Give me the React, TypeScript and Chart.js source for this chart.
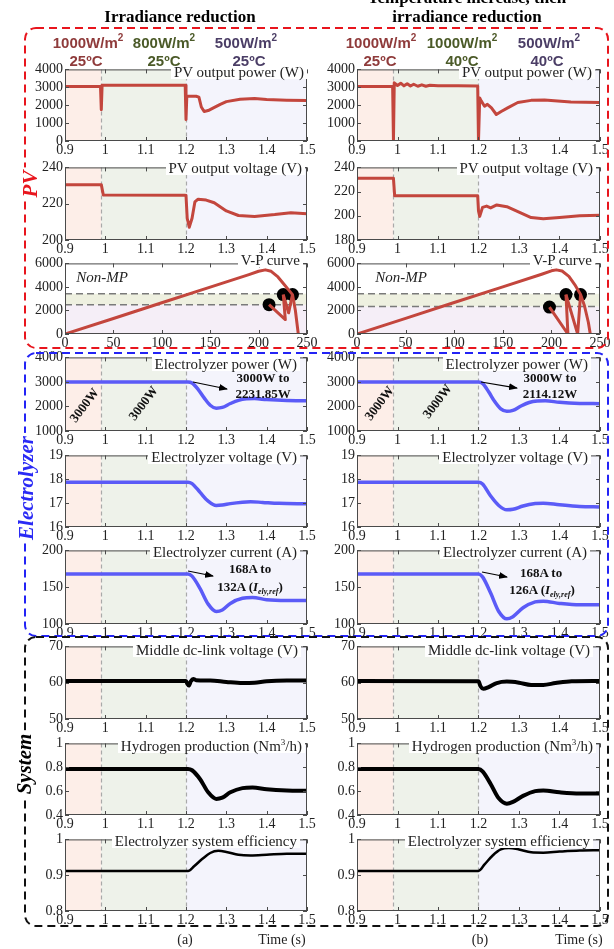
import React, { useEffect, useRef } from "react";
import { Chart, registerables } from "chart.js";
Chart.register(...registerables);

const SERIF = "'Liberation Serif', 'Times New Roman', serif";
const SANS = "'Liberation Sans', Arial, sans-serif";

// ---------- tick labels ----------
const timeTicks = [0.9, 1, 1.1, 1.2, 1.3, 1.4, 1.5];
const vpVoltTicks = [0, 50, 100, 150, 200, 250];
const pvPowerTicks = [0, 1000, 2000, 3000, 4000];
const pvVoltTicksA = [200, 220, 240];
const pvVoltTicksB = [180, 200, 220, 240];
const vpPowerTicks = [0, 2000, 4000, 6000];
const elyPowerTicks = [1000, 2000, 3000, 4000];
const elyVoltTicks = [16, 17, 18, 19];
const elyCurrTicks = [100, 150, 200];
const dcLinkTicks = [50, 60, 70];
const h2Ticks = [0.4, 0.6, 0.8, 1];
const effTicks = [0.8, 0.9, 1];

// stage change instants (s)
const stageTimes = [0.99, 1.2];

// ---------- (a) irradiance reduction ----------
const pvPowerA_t = [0.9, 0.95, 0.988, 0.99, 0.992, 1.05, 1.1, 1.15, 1.198, 1.2, 1.202, 1.225, 1.232, 1.238, 1.245, 1.255, 1.268, 1.285, 1.3, 1.334, 1.37, 1.4, 1.45, 1.5];
const pvPowerA_v = [3050, 3040, 3050, 1750, 3120, 3110, 3120, 3110, 3120, 1200, 2500, 2500, 2450, 1900, 1650, 1700, 1850, 2050, 2200, 2330, 2370, 2320, 2280, 2260];
const pvVoltA_t = [0.9, 0.99, 0.995, 1.198, 1.2, 1.203, 1.208, 1.215, 1.222, 1.23, 1.25, 1.27, 1.3, 1.33, 1.37, 1.42, 1.46, 1.5];
const pvVoltA_v = [230.5, 230.5, 224.8, 224.6, 224.5, 212, 207, 212, 221, 222.5, 222, 220.5, 216, 213.5, 213, 214, 215, 214.5];
const vpMainA_v = [0, 50, 100, 150, 190, 200, 207, 213, 220, 226, 231, 235, 238, 241];
const vpMainA_p = [0, 1320, 2660, 3980, 5050, 5330, 5450, 5330, 4850, 4250, 3750, 3350, 2000, 0];
const vpTr1A_v = [235, 231, 225.5];
const vpTr1A_p = [3350, 1800, 3350];
const vpTr2A_v = [225.5, 227.6, 210.8];
const vpTr2A_p = [3350, 1230, 2490];
const vpDotsA_v = [210.8, 225.5, 235];
const vpDotsA_p = [2490, 3350, 3350];
const vpBandA = [2490, 3420];
const elyPowerA_t = [0.9, 1.205, 1.215, 1.23, 1.245, 1.26, 1.275, 1.29, 1.31, 1.33, 1.35, 1.37, 1.4, 1.45, 1.5];
const elyPowerA_v = [3000, 3000, 2960, 2700, 2350, 2050, 1930, 1960, 2120, 2250, 2310, 2320, 2280, 2240, 2230];
const elyVoltA_t = [0.9, 1.205, 1.215, 1.235, 1.255, 1.275, 1.29, 1.31, 1.34, 1.36, 1.39, 1.43, 1.5];
const elyVoltA_v = [17.88, 17.88, 17.82, 17.45, 17.08, 16.9, 16.92, 16.98, 17.04, 17.06, 17.03, 16.99, 16.97];
const elyCurrA_t = [0.9, 1.205, 1.215, 1.235, 1.255, 1.275, 1.29, 1.31, 1.34, 1.365, 1.4, 1.45, 1.5];
const elyCurrA_v = [168, 168, 165, 148, 127, 117, 119, 128, 135, 136, 133, 132, 132];
const dcLinkA_t = [0.9, 1.2, 1.203, 1.207, 1.212, 1.218, 1.225, 1.26, 1.3, 1.34, 1.37, 1.4, 1.45, 1.5];
const dcLinkA_v = [60.5, 60.5, 59.8, 59.2, 60.4, 61.0, 60.7, 60.6, 60.2, 59.9, 60.0, 60.4, 60.6, 60.6];
const h2A_t = [0.9, 1.205, 1.215, 1.235, 1.255, 1.275, 1.29, 1.31, 1.34, 1.365, 1.4, 1.45, 1.5];
const h2A_v = [0.785, 0.785, 0.775, 0.7, 0.59, 0.535, 0.545, 0.59, 0.625, 0.63, 0.615, 0.605, 0.603];
const effA_t = [0.9, 1.205, 1.22, 1.24, 1.26, 1.28, 1.3, 1.33, 1.36, 1.4, 1.45, 1.5];
const effA_v = [0.912, 0.912, 0.925, 0.945, 0.962, 0.968, 0.965, 0.957, 0.955, 0.957, 0.96, 0.96];

// ---------- (b) temperature increase, then irradiance reduction ----------
const pvPowerB_t = [0.9, 0.988, 0.99, 0.992, 1.0, 1.008, 1.016, 1.024, 1.032, 1.04, 1.05, 1.06, 1.07, 1.08, 1.1, 1.15, 1.198, 1.2, 1.203, 1.207, 1.215, 1.222, 1.232, 1.244, 1.256, 1.272, 1.297, 1.33, 1.363, 1.428, 1.5];
const pvPowerB_v = [3050, 3050, 0, 3250, 3100, 3230, 3080, 3200, 3070, 3170, 3060, 3140, 3060, 3110, 3080, 3080, 3070, 0, 2400, 2230, 1940, 2050, 1850, 1480, 1650, 1850, 2150, 2270, 2290, 2180, 2150];
const pvVoltB_t = [0.9, 0.99, 0.993, 1.198, 1.2, 1.203, 1.21, 1.22, 1.23, 1.245, 1.27, 1.3, 1.33, 1.36, 1.4, 1.45, 1.5];
const pvVoltB_v = [231, 231, 216.5, 216.5, 204, 199.5, 207, 208, 206.5, 209, 207.5, 203, 198.5, 197.5, 198.5, 200, 200.5];
const vpMainB_v = [0, 50, 100, 150, 190, 200, 205, 211, 218, 224, 230, 234, 238, 240];
const vpMainB_p = [0, 1330, 2680, 4000, 5080, 5370, 5450, 5350, 4900, 4200, 3350, 2400, 1000, 0];
const vpTr1B_v = [230, 227, 215];
const vpTr1B_p = [3350, 0, 3350];
const vpTr2B_v = [215, 217, 198];
const vpTr2B_p = [3350, 0, 2290];
const vpDotsB_v = [198, 215, 230];
const vpDotsB_p = [2290, 3350, 3350];
const vpBandB = [2340, 3420];
const elyPowerB_t = [0.9, 1.2, 1.21, 1.225, 1.24, 1.255, 1.27, 1.285, 1.305, 1.325, 1.345, 1.365, 1.4, 1.45, 1.5];
const elyPowerB_v = [3000, 3000, 2940, 2600, 2200, 1900, 1800, 1840, 2020, 2160, 2220, 2230, 2170, 2125, 2114];
const elyVoltB_t = [0.9, 1.2, 1.21, 1.23, 1.25, 1.27, 1.285, 1.31, 1.34, 1.36, 1.4, 1.45, 1.5];
const elyVoltB_v = [17.88, 17.88, 17.8, 17.3, 16.9, 16.72, 16.74, 16.88, 16.98, 17.0, 16.93, 16.86, 16.84];
const elyCurrB_t = [0.9, 1.2, 1.21, 1.23, 1.25, 1.27, 1.285, 1.31, 1.34, 1.36, 1.4, 1.45, 1.5];
const elyCurrB_v = [168, 168, 164, 142, 117, 107, 110, 122, 130, 131, 128, 126, 126];
const dcLinkB_t = [0.9, 1.2, 1.205, 1.212, 1.225, 1.245, 1.27, 1.3, 1.33, 1.36, 1.39, 1.43, 1.5];
const dcLinkB_v = [60.5, 60.4, 59.0, 58.3, 58.8, 59.9, 60.3, 60.0, 59.4, 59.4, 59.9, 60.4, 60.5];
const h2B_t = [0.9, 1.2, 1.21, 1.23, 1.25, 1.27, 1.285, 1.31, 1.34, 1.36, 1.4, 1.45, 1.5];
const h2B_v = [0.785, 0.785, 0.765, 0.66, 0.54, 0.495, 0.51, 0.56, 0.6, 0.605, 0.59, 0.58, 0.58];
const effB_t = [0.9, 1.2, 1.215, 1.235, 1.255, 1.275, 1.3, 1.33, 1.36, 1.4, 1.45, 1.5];
const effB_v = [0.912, 0.912, 0.93, 0.955, 0.972, 0.976, 0.972, 0.964, 0.963, 0.966, 0.969, 0.97];

// ---------- styles ----------
const PV_RED = "#c3463d";
const ELY_BLUE = "#5b5bf7";
const SYS_BLACK = "#000000";
const PINK = "#fdeee8";
const GREEN = "#eef2ea";
const LAV = "#f4f4fc";
const VP_LOW = "#f5eef7";
const VP_BAND = "#eef0e0";

type Series = { x: number[]; y: number[]; color: string; width: number; smooth?: boolean; dots?: boolean };
type PanelCfg = {
  L: number; T: number; W: number; H: number;
  xTicks: number[]; yTicks: number[];
  series: Series[]; kind: "time" | "vp"; band?: number[];
};

const fmt = (v: number) => String(Math.round(v * 100) / 100);

const framePlugin = {
  id: "frame",
  beforeDatasetsDraw(chart: any, _args: any, opts: any) {
    const { ctx, chartArea: a } = chart;
    const xs = chart.scales.x, ys = chart.scales.y;
    ctx.save();
    if (opts.kind === "time") {
      const edges = [xs.min, stageTimes[0], stageTimes[1], xs.max];
      const fills = [PINK, GREEN, LAV];
      for (let i = 0; i < 3; i++) {
        const x0 = xs.getPixelForValue(edges[i]);
        const x1 = xs.getPixelForValue(edges[i + 1]);
        ctx.fillStyle = fills[i];
        ctx.fillRect(x0, a.top, x1 - x0, a.bottom - a.top);
      }
      ctx.strokeStyle = "#a9a9a9";
      ctx.lineWidth = 1.2;
      ctx.setLineDash([4, 3]);
      stageTimes.forEach((t) => {
        const px = Math.round(xs.getPixelForValue(t)) + 0.5;
        ctx.beginPath();
        ctx.moveTo(px, a.top);
        ctx.lineTo(px, a.bottom);
        ctx.stroke();
      });
    } else {
      const [lo, hi] = opts.band;
      const yl = ys.getPixelForValue(lo), yh = ys.getPixelForValue(hi);
      ctx.fillStyle = VP_LOW;
      ctx.fillRect(a.left, yl, a.right - a.left, a.bottom - yl);
      ctx.fillStyle = VP_BAND;
      ctx.fillRect(a.left, yh, a.right - a.left, yl - yh);
      ctx.strokeStyle = "#7a7a7a";
      ctx.lineWidth = 1.6;
      ctx.setLineDash([7, 4]);
      [yl, yh].forEach((py) => {
        ctx.beginPath();
        ctx.moveTo(a.left, py);
        ctx.lineTo(a.right, py);
        ctx.stroke();
      });
    }
    ctx.restore();
  },
  afterDraw(chart: any) {
    const { ctx, chartArea: a } = chart;
    const xs = chart.scales.x, ys = chart.scales.y;
    ctx.save();
    ctx.strokeStyle = "#4a4a4a";
    ctx.lineWidth = 1;
    ctx.setLineDash([]);
    ctx.strokeRect(a.left + 0.5, a.top + 0.5, a.right - a.left - 1, a.bottom - a.top - 1);
    ctx.beginPath();
    xs.ticks.forEach((t: any) => {
      const px = Math.round(xs.getPixelForValue(t.value)) + 0.5;
      ctx.moveTo(px, a.bottom); ctx.lineTo(px, a.bottom - 4);
      ctx.moveTo(px, a.top); ctx.lineTo(px, a.top + 4);
    });
    ys.ticks.forEach((t: any) => {
      const py = Math.round(ys.getPixelForValue(t.value)) + 0.5;
      ctx.moveTo(a.left, py); ctx.lineTo(a.left + 4, py);
      ctx.moveTo(a.right, py); ctx.lineTo(a.right - 4, py);
    });
    ctx.stroke();
    ctx.restore();
  },
};

const PAD_L = 50, PAD_T = 10, PAD_R = 16, PAD_B = 22;

function Panel({ cfg }: { cfg: PanelCfg }) {
  const ref = useRef<HTMLCanvasElement>(null);
  useEffect(() => {
    const tickFont = { family: SERIF, size: 14 };
    const chart = new Chart(ref.current as HTMLCanvasElement, {
      type: "line",
      data: {
        datasets: cfg.series.map((s) => ({
          data: s.x.map((x, i) => ({ x, y: s.y[i] })),
          borderColor: s.color,
          backgroundColor: s.color,
          pointBackgroundColor: s.color,
          borderWidth: s.dots ? 0 : s.width,
          showLine: !s.dots,
          pointRadius: s.dots ? s.width : 0,
          pointBorderWidth: 0,
          cubicInterpolationMode: s.smooth ? "monotone" : "default",
          tension: 0,
          borderJoinStyle: "round",
          fill: false,
          clip: s.dots ? 8 : 0,
        })),
      },
      options: {
        responsive: false,
        maintainAspectRatio: false,
        animation: false,
        events: [],
        layout: { padding: { left: 0, top: PAD_T, right: PAD_R, bottom: 0 } },
        plugins: {
          legend: { display: false },
          tooltip: { enabled: false },
          frame: { kind: cfg.kind, band: cfg.band },
        } as any,
        scales: {
          x: {
            type: "linear",
            min: cfg.xTicks[0],
            max: cfg.xTicks[cfg.xTicks.length - 1],
            afterBuildTicks: (s: any) => { s.ticks = cfg.xTicks.map((v) => ({ value: v })); },
            afterFit: (s: any) => { s.height = PAD_B; },
            grid: { display: false, drawTicks: false },
            border: { display: false },
            ticks: { font: tickFont, color: "#222", padding: 1, maxRotation: 0, autoSkip: false, callback: (v: any) => fmt(Number(v)) },
          },
          y: {
            type: "linear",
            min: cfg.yTicks[0],
            max: cfg.yTicks[cfg.yTicks.length - 1],
            afterBuildTicks: (s: any) => { s.ticks = cfg.yTicks.map((v) => ({ value: v })); },
            afterFit: (s: any) => { s.width = PAD_L; },
            grid: { display: false, drawTicks: false },
            border: { display: false },
            ticks: { font: tickFont, color: "#222", padding: 2, autoSkip: false, callback: (v: any) => fmt(Number(v)) },
          },
        },
      } as any,
      plugins: [framePlugin as any],
    });
    return () => chart.destroy();
  }, []);
  const w = cfg.W + PAD_L + PAD_R, h = cfg.H + PAD_T + PAD_B;
  return (
    <canvas
      ref={ref}
      width={w}
      height={h}
      style={{ position: "absolute", left: cfg.L - PAD_L, top: cfg.T - PAD_T, width: w, height: h }}
    />
  );
}

// column / row layout
const COLS = [{ L: 65, W: 242 }, { L: 357, W: 243 }];
const ROWS = [
  { T: 69, H: 72 }, { T: 167, H: 73 }, { T: 263, H: 71 },
  { T: 357, H: 74 }, { T: 455, H: 72 }, { T: 550, H: 74 },
  { T: 646, H: 73 }, { T: 743, H: 72 }, { T: 839, H: 72 },
];

function mk(col: number, row: number, kind: "time" | "vp", xTicks: number[], yTicks: number[], series: Series[], band?: number[]): PanelCfg {
  return { L: COLS[col].L, W: COLS[col].W, T: ROWS[row].T, H: ROWS[row].H, kind, xTicks, yTicks, series, band };
}

const panels: PanelCfg[] = [
  mk(0, 0, "time", timeTicks, pvPowerTicks, [{ x: pvPowerA_t, y: pvPowerA_v, color: PV_RED, width: 3 }]),
  mk(1, 0, "time", timeTicks, pvPowerTicks, [{ x: pvPowerB_t, y: pvPowerB_v, color: PV_RED, width: 3 }]),
  mk(0, 1, "time", timeTicks, pvVoltTicksA, [{ x: pvVoltA_t, y: pvVoltA_v, color: PV_RED, width: 3 }]),
  mk(1, 1, "time", timeTicks, pvVoltTicksB, [{ x: pvVoltB_t, y: pvVoltB_v, color: PV_RED, width: 3 }]),
  mk(0, 2, "vp", vpVoltTicks, vpPowerTicks, [
    { x: vpMainA_v, y: vpMainA_p, color: PV_RED, width: 3 },
    { x: vpTr1A_v, y: vpTr1A_p, color: PV_RED, width: 3 },
    { x: vpTr2A_v, y: vpTr2A_p, color: PV_RED, width: 3 },
    { x: vpDotsA_v, y: vpDotsA_p, color: "#000", width: 6.5, dots: true },
  ], vpBandA),
  mk(1, 2, "vp", vpVoltTicks, vpPowerTicks, [
    { x: vpMainB_v, y: vpMainB_p, color: PV_RED, width: 3 },
    { x: vpTr1B_v, y: vpTr1B_p, color: PV_RED, width: 3 },
    { x: vpTr2B_v, y: vpTr2B_p, color: PV_RED, width: 3 },
    { x: vpDotsB_v, y: vpDotsB_p, color: "#000", width: 6.5, dots: true },
  ], vpBandB),
  mk(0, 3, "time", timeTicks, elyPowerTicks, [{ x: elyPowerA_t, y: elyPowerA_v, color: ELY_BLUE, width: 3.5, smooth: true }]),
  mk(1, 3, "time", timeTicks, elyPowerTicks, [{ x: elyPowerB_t, y: elyPowerB_v, color: ELY_BLUE, width: 3.5, smooth: true }]),
  mk(0, 4, "time", timeTicks, elyVoltTicks, [{ x: elyVoltA_t, y: elyVoltA_v, color: ELY_BLUE, width: 3.5, smooth: true }]),
  mk(1, 4, "time", timeTicks, elyVoltTicks, [{ x: elyVoltB_t, y: elyVoltB_v, color: ELY_BLUE, width: 3.5, smooth: true }]),
  mk(0, 5, "time", timeTicks, elyCurrTicks, [{ x: elyCurrA_t, y: elyCurrA_v, color: ELY_BLUE, width: 3.5, smooth: true }]),
  mk(1, 5, "time", timeTicks, elyCurrTicks, [{ x: elyCurrB_t, y: elyCurrB_v, color: ELY_BLUE, width: 3.5, smooth: true }]),
  mk(0, 6, "time", timeTicks, dcLinkTicks, [{ x: dcLinkA_t, y: dcLinkA_v, color: SYS_BLACK, width: 4, smooth: true }]),
  mk(1, 6, "time", timeTicks, dcLinkTicks, [{ x: dcLinkB_t, y: dcLinkB_v, color: SYS_BLACK, width: 4, smooth: true }]),
  mk(0, 7, "time", timeTicks, h2Ticks, [{ x: h2A_t, y: h2A_v, color: SYS_BLACK, width: 4, smooth: true }]),
  mk(1, 7, "time", timeTicks, h2Ticks, [{ x: h2B_t, y: h2B_v, color: SYS_BLACK, width: 4, smooth: true }]),
  mk(0, 8, "time", timeTicks, effTicks, [{ x: effA_t, y: effA_v, color: SYS_BLACK, width: 2.5, smooth: true }]),
  mk(1, 8, "time", timeTicks, effTicks, [{ x: effB_t, y: effB_v, color: SYS_BLACK, width: 2.5, smooth: true }]),
];

// panel captions: per column [right inset from plot right, centre offset from plot top]
const captions: { row: number; text: React.ReactNode; off: number[][] }[] = [
  { row: 0, text: "PV output power (W)", off: [[3, 3], [8, 3]] },
  { row: 1, text: "PV output voltage (V)", off: [[5, 1], [7, 1]] },
  { row: 2, text: "V-P curve", off: [[7, -3], [8, -3]] },
  { row: 3, text: "Electrolyzer power (W)", off: [[10, 7], [12, 7]] },
  { row: 4, text: "Electrolyzer voltage (V)", off: [[10, 2], [12, 2]] },
  { row: 5, text: "Electrolyzer current (A)", off: [[10, 2], [13, 2]] },
  { row: 6, text: "Middle dc-link voltage (V)", off: [[9, 4], [10, 4]] },
  { row: 7, text: <>Hydrogen production (Nm<sup style={{ fontSize: 9, verticalAlign: "6px", lineHeight: 0 }}>3</sup>/h)</>, off: [[5, 3], [7, 3]] },
  { row: 8, text: "Electrolyzer system efficiency", off: [[10, 2], [10, 2]] },
];

function Txt({ x, y, children, style, rot }: { x: number; y: number; children: React.ReactNode; style?: React.CSSProperties; rot?: number }) {
  return (
    <div
      style={{
        position: "absolute", left: x, top: y,
        transform: `translate(-50%,-50%)${rot ? ` rotate(${rot}deg)` : ""}`,
        whiteSpace: "nowrap", lineHeight: 1, ...style,
      }}
    >
      {children}
    </div>
  );
}

const condStyle = (c: string): React.CSSProperties => ({ fontFamily: SANS, fontWeight: 700, fontSize: 15, color: c });
const SUP2 = <sup style={{ fontSize: 10, verticalAlign: "7px", lineHeight: 0 }}>2</sup>;
const C_RED = "#8f3b3b", C_GRN = "#4b5a28", C_PUR = "#4b3e66";

const boldNote: React.CSSProperties = { fontFamily: SERIF, fontWeight: 700, fontSize: 13, color: "#111" };

export default function App() {
  return (
    <div style={{ position: "absolute", left: 0, top: 0, width: 614, height: 949, background: "#fff", overflow: "hidden", fontFamily: SERIF }}>
      {panels.map((p, i) => <Panel key={i} cfg={p} />)}

      <svg width={614} height={949} style={{ position: "absolute", left: 0, top: 0, pointerEvents: "none" }}>
        <defs>
          <marker id="ah" markerWidth="9" markerHeight="7" refX="8" refY="3.5" orient="auto" markerUnits="userSpaceOnUse">
            <path d="M0,0 L9,3.5 L0,7 z" fill="#000" />
          </marker>
        </defs>
        <rect x={25} y={28} width={583} height={320} rx={11} fill="none" stroke="#e8151d" strokeWidth={2} strokeDasharray="8 5" />
        <rect x={25} y={353} width={583} height={283} rx={11} fill="none" stroke="#2323f5" strokeWidth={2} strokeDasharray="8 5" />
        <rect x={25} y={637} width={583} height={289} rx={11} fill="none" stroke="#111" strokeWidth={2} strokeDasharray="8 5" />
        <line x1={193} y1={382} x2={227} y2={389} stroke="#000" strokeWidth={1.2} markerEnd="url(#ah)" />
        <line x1={481} y1={382} x2={517} y2={388} stroke="#000" strokeWidth={1.2} markerEnd="url(#ah)" />
        <line x1={188} y1={571} x2={213} y2={576} stroke="#000" strokeWidth={1.2} markerEnd="url(#ah)" />
        <line x1={482} y1={572} x2={507} y2={577} stroke="#000" strokeWidth={1.2} markerEnd="url(#ah)" />
      </svg>

      {captions.map((c) =>
        [0, 1].map((col) => {
          const right = COLS[col].L + COLS[col].W - c.off[col][0];
          const cy = ROWS[c.row].T + c.off[col][1];
          return (
            <div key={`${c.row}-${col}`} style={{
              position: "absolute", right: 614 - right - 3, top: cy - 7, height: 14, lineHeight: "14px",
              background: "#fff", padding: "0 3px", fontFamily: SERIF, fontSize: 15, color: "#222", whiteSpace: "nowrap",
            }}>{c.text}</div>
          );
        })
      )}

      {/* titles */}
      <Txt x={180} y={16} style={{ fontFamily: SERIF, fontWeight: 700, fontSize: 17 }}>Irradiance reduction</Txt>
      <Txt x={467} y={-3} style={{ fontFamily: SERIF, fontWeight: 700, fontSize: 17 }}>Temperature increase, then</Txt>
      <Txt x={467} y={16} style={{ fontFamily: SERIF, fontWeight: 700, fontSize: 17 }}>irradiance reduction</Txt>

      {/* conditions */}
      <Txt x={88} y={42} style={condStyle(C_RED)}>1000W/m{SUP2}</Txt>
      <Txt x={86} y={60} style={condStyle(C_RED)}>25ºC</Txt>
      <Txt x={164} y={42} style={condStyle(C_GRN)}>800W/m{SUP2}</Txt>
      <Txt x={164} y={60} style={condStyle(C_GRN)}>25ºC</Txt>
      <Txt x={246} y={42} style={condStyle(C_PUR)}>500W/m{SUP2}</Txt>
      <Txt x={249} y={60} style={condStyle(C_PUR)}>25ºC</Txt>
      <Txt x={381} y={42} style={condStyle(C_RED)}>1000W/m{SUP2}</Txt>
      <Txt x={380} y={60} style={condStyle(C_RED)}>25ºC</Txt>
      <Txt x={462} y={42} style={condStyle(C_GRN)}>1000W/m{SUP2}</Txt>
      <Txt x={462} y={60} style={condStyle(C_GRN)}>40ºC</Txt>
      <Txt x={549} y={42} style={condStyle(C_PUR)}>500W/m{SUP2}</Txt>
      <Txt x={547} y={60} style={condStyle(C_PUR)}>40ºC</Txt>

      {/* side labels */}
      <Txt x={30} y={184} rot={-90} style={{ fontFamily: SERIF, fontWeight: 700, fontStyle: "italic", fontSize: 21, color: "#e8151d", background: "#fff", padding: "0 3px" }}>PV</Txt>
      <Txt x={26} y={488} rot={-90} style={{ fontFamily: SERIF, fontWeight: 700, fontStyle: "italic", fontSize: 21, color: "#2a2af5", background: "#fff", padding: "0 3px" }}>Electrolyzer</Txt>
      <Txt x={24} y={764} rot={-90} style={{ fontFamily: SERIF, fontWeight: 700, fontStyle: "italic", fontSize: 21, color: "#000", background: "#fff", padding: "0 3px" }}>System</Txt>

      {/* V-P notes */}
      <Txt x={102} y={277} style={{ fontFamily: SERIF, fontStyle: "italic", fontSize: 15, color: "#222" }}>Non-MP</Txt>
      <Txt x={401} y={277} style={{ fontFamily: SERIF, fontStyle: "italic", fontSize: 15, color: "#222" }}>Non-MP</Txt>

      {/* rotated 3000W */}
      <Txt x={84} y={405} rot={-53} style={boldNote}>3000W</Txt>
      <Txt x={143} y={403} rot={-53} style={boldNote}>3000W</Txt>
      <Txt x={379} y={403} rot={-53} style={boldNote}>3000W</Txt>
      <Txt x={437} y={401} rot={-53} style={boldNote}>3000W</Txt>

      {/* arrow notes */}
      <Txt x={263} y={377} style={boldNote}>3000W to</Txt>
      <Txt x={263} y={393} style={boldNote}>2231.85W</Txt>
      <Txt x={550} y={377} style={boldNote}>3000W to</Txt>
      <Txt x={550} y={393} style={boldNote}>2114.12W</Txt>
      <Txt x={250} y={568} style={boldNote}>168A to</Txt>
      <Txt x={250} y={586} style={boldNote}>132A (<i>I<sub style={{ fontSize: 8, lineHeight: 0 }}>ely,ref</sub></i>)</Txt>
      <Txt x={541} y={572} style={boldNote}>168A to</Txt>
      <Txt x={542} y={589} style={boldNote}>126A (<i>I<sub style={{ fontSize: 8, lineHeight: 0 }}>ely,ref</sub></i>)</Txt>

      {/* bottom */}
      <Txt x={185} y={940} style={{ fontSize: 14, color: "#222" }}>(a)</Txt>
      <Txt x={282} y={940} style={{ fontSize: 14, color: "#222" }}>Time (s)</Txt>
      <Txt x={480} y={940} style={{ fontSize: 14, color: "#222" }}>(b)</Txt>
      <Txt x={579} y={940} style={{ fontSize: 14, color: "#222" }}>Time (s)</Txt>
    </div>
  );
}
